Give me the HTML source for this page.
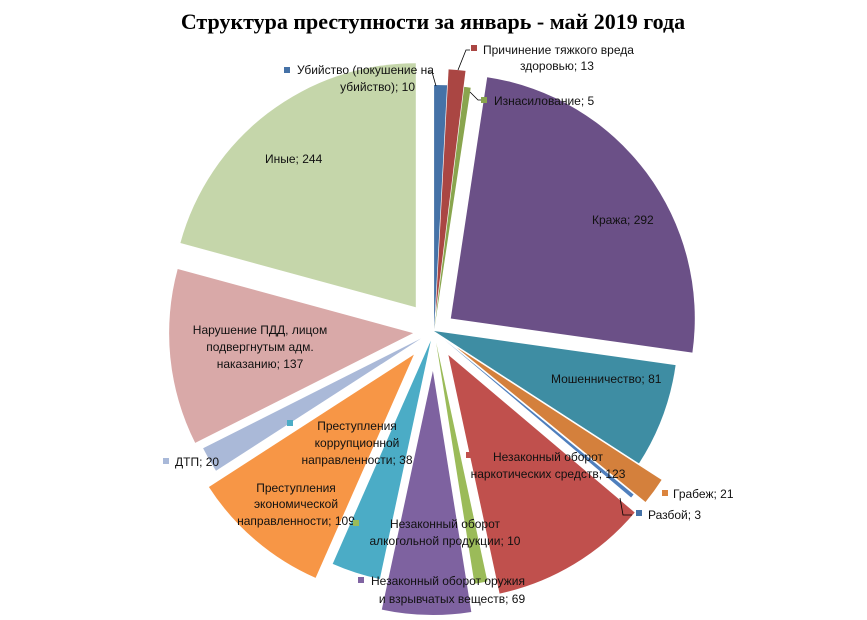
<!DOCTYPE html>
<html><head><meta charset="utf-8"><style>
html,body{margin:0;padding:0;background:#fff;}
svg{display:block;}
text{font-family:"Liberation Sans","DejaVu Sans",sans-serif;font-size:12px;fill:#111;}
</style></head><body>
<svg id="s" width="867" height="620" viewBox="0 0 867 620">
<text x="433" y="29" text-anchor="middle" style="font-family:'Liberation Serif',serif;font-size:22px;font-weight:bold;fill:#000">Структура преступности за январь - май 2019 года</text>
<g id="pie"></g>
<g stroke="#000" stroke-width="0.8" fill="none">
<polyline points="428,72 432,72 436,86"/>
<polyline points="470,50 466,50 458,70"/>
<polyline points="482,100 478,100 470,92"/>
<polyline points="620,498 623,515 632,515"/>
</g>
<g>
<rect x="284" y="67" width="6" height="6" fill="#4572A7"/>
<text x="297" y="74">Убийство (покушение на</text>
<text x="415" y="91" text-anchor="end">убийство); 10</text>
<rect x="471" y="45" width="6" height="6" fill="#AA4643"/>
<text x="483" y="54">Причинение тяжкого вреда</text>
<text x="520" y="70">здоровью; 13</text>
<rect x="481" y="97" width="6" height="6" fill="#89A54E"/>
<text x="494" y="105">Изнасилование; 5</text>
<text x="592" y="224">Кража; 292</text>
<text x="265" y="163">Иные; 244</text>
<text x="551" y="383">Мошенничество; 81</text>
<text x="260" y="334" text-anchor="middle">Нарушение ПДД, лицом</text>
<text x="260" y="351" text-anchor="middle">подвергнутым адм.</text>
<text x="260" y="368" text-anchor="middle">наказанию; 137</text>
<rect x="287" y="420" width="6" height="6" fill="#4BACC6"/>
<text x="357" y="430" text-anchor="middle">Преступления</text>
<text x="357" y="447" text-anchor="middle">коррупционной</text>
<text x="357" y="464" text-anchor="middle">направленности; 38</text>
<rect x="163" y="458" width="6" height="6" fill="#A9B9D9"/>
<text x="175" y="466">ДТП; 20</text>
<rect x="466" y="452" width="6" height="6" fill="#C0504D"/>
<text x="548" y="461" text-anchor="middle">Незаконный оборот</text>
<text x="548" y="478" text-anchor="middle">наркотических средств; 123</text>
<rect x="662" y="490" width="6" height="6" fill="#DB843D"/>
<text x="673" y="498">Грабеж; 21</text>
<rect x="636" y="510" width="6" height="6" fill="#4572A7"/>
<text x="648" y="519">Разбой; 3</text>
<text x="296" y="492" text-anchor="middle">Преступления</text>
<text x="296" y="508" text-anchor="middle">экономической</text>
<text x="296" y="525" text-anchor="middle">направленности; 109</text>
<rect x="353" y="520" width="6" height="6" fill="#9BBB59"/>
<text x="445" y="528" text-anchor="middle">Незаконный оборот</text>
<text x="445" y="545" text-anchor="middle">алкогольной продукции; 10</text>
<rect x="358" y="577" width="6" height="6" fill="#8064A2"/>
<text x="371" y="585">Незаконный оборот оружия</text>
<text x="452" y="603" text-anchor="middle">и взрывчатых веществ; 69</text>
</g>
</svg>
<script>
var data=[[10,"#4572A7",2],[13,"#AA4643",18],[5,"#89A54E",2],[292,"#6B5087",21],[81,"#3E8DA3",0],[21,"#D4803C",28],[3,"#4F7FBD",14],[123,"#C0504D",28],[10,"#9BBB59",12],[69,"#7E62A0",40],[38,"#4BACC6",10],[109,"#F79646",31],[20,"#AAB9D8",15],[137,"#D9A9A8",21],[244,"#C5D6AA",30]];
var tot=0;data.forEach(function(d){tot+=d[0];});
var cx=434,cy=331,R=244,a=0,g=document.getElementById("pie"),h="";
function pt(x,y,ang,r){var t=ang*Math.PI/180;return [x+r*Math.sin(t),y-r*Math.cos(t)];}
data.forEach(function(d){var sw=d[0]/tot*360,m=a+sw/2;var o=pt(cx,cy,m,d[2]);var p1=pt(o[0],o[1],a,R),p2=pt(o[0],o[1],a+sw,R);
h+='<path d="M'+o[0].toFixed(1)+','+o[1].toFixed(1)+'L'+p1[0].toFixed(1)+','+p1[1].toFixed(1)+'A'+R+','+R+' 0 '+(sw>180?1:0)+' 1 '+p2[0].toFixed(1)+','+p2[1].toFixed(1)+'Z" fill="'+d[1]+'"/>';a+=sw;});
g.innerHTML=h;
</script>
</body></html>
